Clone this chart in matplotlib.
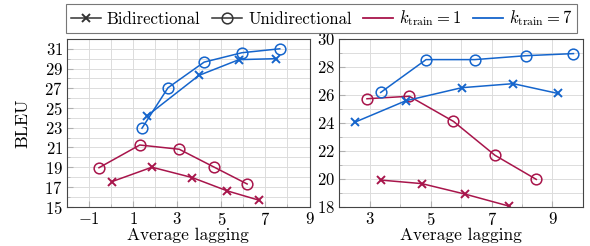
import matplotlib
matplotlib.use("Agg")
import matplotlib.pyplot as plt
from matplotlib.lines import Line2D
from matplotlib.ticker import MultipleLocator

plt.rcParams['font.family'] = ['cmr10', 'DejaVu Serif']
plt.rcParams['mathtext.fontset'] = 'cm'
plt.rcParams['axes.formatter.use_mathtext'] = True

RED = '#A8154B'
BLUE = '#1565CC'

# left panel
left_uni_k1_x = [-0.55, 1.30, 3.09, 4.68, 6.17]
left_uni_k1_y = [18.95, 21.25, 20.82, 19.0, 17.3]
left_bi_k1_x = [0.05, 1.85, 3.68, 5.27, 6.72]
left_bi_k1_y = [17.55, 19.0, 17.95, 16.6, 15.65]
left_uni_k7_x = [1.40, 2.58, 4.22, 5.93, 7.65]
left_uni_k7_y = [22.95, 27.05, 29.65, 30.6, 31.0]
left_bi_k7_x = [1.63, 3.98, 5.80, 7.50]
left_bi_k7_y = [24.2, 28.3, 29.9, 30.0]

# right panel
right_uni_k1_x = [2.91, 4.30, 5.75, 7.11, 8.47]
right_uni_k1_y = [25.72, 25.9, 24.1, 21.68, 19.95]
right_bi_k1_x = [3.38, 4.71, 6.13, 7.56]
right_bi_k1_y = [19.9, 19.65, 18.9, 18.05]
right_uni_k7_x = [3.36, 4.85, 6.45, 8.13, 9.69]
right_uni_k7_y = [26.17, 28.52, 28.52, 28.8, 28.95]
right_bi_k7_x = [2.52, 4.19, 6.02, 7.71, 9.18]
right_bi_k7_y = [24.05, 25.58, 26.51, 26.8, 26.1]

uni_style = dict(marker='o', markersize=7.7, markerfacecolor='none', markeredgewidth=1.1, lw=1.1)
bi_style = dict(marker='x', markersize=6, markeredgewidth=1.4, lw=1.1)

fig = plt.figure(figsize=(5.9, 2.46), dpi=100)
ax1 = fig.add_axes([0.1136, 0.1598, 0.411, 0.682])
ax2 = fig.add_axes([0.575, 0.1598, 0.413, 0.682])


def style_axis(ax):
    ax.grid(True, which='both', color='#dcdcdc', lw=0.7)
    ax.set_axisbelow(True)
    for s in ax.spines.values():
        s.set_color('#444444')
        s.set_linewidth(0.8)
    ax.tick_params(which='both', direction='in', color='#b0b0b0', labelsize=12, pad=3)
    ax.tick_params(which='major', length=4)
    ax.tick_params(which='minor', length=2.5)
    ax.set_xlabel('Average lagging', fontsize=12.5, labelpad=0)


ax1.plot(left_uni_k1_x, left_uni_k1_y, color=RED, **uni_style)
ax1.plot(left_bi_k1_x, left_bi_k1_y, color=RED, **bi_style)
ax1.plot(left_uni_k7_x, left_uni_k7_y, color=BLUE, **uni_style)
ax1.plot(left_bi_k7_x, left_bi_k7_y, color=BLUE, **bi_style)
ax1.set_xlim(-2, 9)
ax1.set_ylim(15, 32)
ax1.set_xticks([-1, 1, 3, 5, 7, 9])
ax1.set_yticks([15, 17, 19, 21, 23, 25, 27, 29, 31])
ax1.xaxis.set_minor_locator(MultipleLocator(1))
ax1.yaxis.set_minor_locator(MultipleLocator(1))
style_axis(ax1)
ax1.set_ylabel('BLEU', fontsize=13, labelpad=10)

ax2.plot(right_uni_k1_x, right_uni_k1_y, color=RED, **uni_style)
ax2.plot(right_bi_k1_x, right_bi_k1_y, color=RED, **bi_style)
ax2.plot(right_uni_k7_x, right_uni_k7_y, color=BLUE, **uni_style)
ax2.plot(right_bi_k7_x, right_bi_k7_y, color=BLUE, **bi_style)
ax2.set_xlim(2, 10)
ax2.set_ylim(18, 30)
ax2.set_xticks([3, 5, 7, 9])
ax2.set_yticks([18, 20, 22, 24, 26, 28, 30])
ax2.xaxis.set_minor_locator(MultipleLocator(1))
ax2.yaxis.set_minor_locator(MultipleLocator(1))
style_axis(ax2)

handles = [
    Line2D([], [], color='#333333', **bi_style),
    Line2D([], [], color='#333333', **uni_style),
    Line2D([], [], color=RED, lw=1.3),
    Line2D([], [], color=BLUE, lw=1.3),
]
labels = ['Bidirectional', 'Unidirectional', r'$k_{\mathrm{train}}=1$', r'$k_{\mathrm{train}}=7$']
leg = fig.legend(handles, labels, loc='center', bbox_to_anchor=(0.545, 0.925), ncol=4,
                 fontsize=12, frameon=True, fancybox=False, edgecolor='#555555',
                 handlelength=1.8, handletextpad=0.36, columnspacing=0.7,
                 borderpad=0.3, borderaxespad=0)
leg.get_frame().set_linewidth(0.8)

fig.savefig('out.png', dpi=100)
